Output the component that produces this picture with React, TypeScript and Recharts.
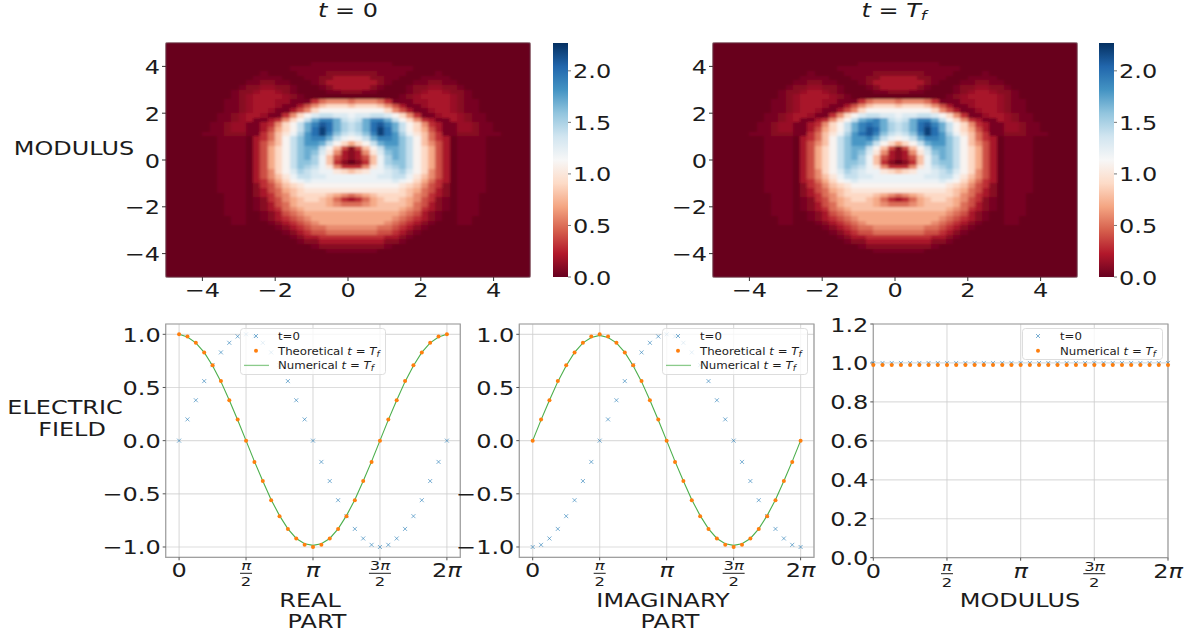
import {
  Bar,
  BarChart,
  CartesianGrid,
  ComposedChart,
  Legend,
  Line,
  ReferenceArea,
  Scatter,
  ScatterChart,
  XAxis,
  YAxis,
} from 'recharts';

// one char per cell, value * 10 in base 36 (a = 1.0 ... m = 2.2), x = 0.05, y = 0.15, top row first
const modulusStart: string[] = [
  '0000000000000000000000000 0 000000000000000000000000',
  '0000000000000000000000000 0 000000000000000000000000',
  '0000000000000000000000000 0 000000000000000000000000',
  '0000000000000000000000000 0 000000000000000000000000',
  '00000000000000000000xxxxx x xxxxx0000000000000000000',
  '00000000000000000xxxxxxxx x xxxxxxxx0000000000000000',
  '0000000000000x0000xxxx111 1 111xxxx0000x000000000000',
  '000000000000xxxx000xx1122 2 2211xx000xxxx00000000000',
  '00000000000xx11xx000x1222 2 2221x000xx11xx0000000000',
  '0000000000x11yy11x000x122 2 221x000x11yy11x000000000',
  '000000000x11y22y1x0000xx1 1 1xx0000x1y22y11x00000000',
  '000000000x1y2222y1x000000 0 000000x1y2222y1x00000000',
  '00000000xx1y222yyxxx35666 5 66653xxxyy222y1xx0000000',
  '00000000xx1y222yxx2468999 8 9998642xxy222y1xx0000000',
  '00000000xx1y22yxx2469bbbb b bbbb9642xxy22y1xx0000000',
  '0000000xx1y22yxx369bdeedd c ddeedb963xxy22y1xx000000',
  '0000000xx1y2xx2369behjjhe d ehjjheb9632xx2y1xx000000',
  '000000xx1yyxx2369behjlkhf e fhkljheb9632xxyy1xx00000',
  '000000xx1yyxx2479behkmkhf e fhkmkheb9742xxyy1xx00000',
  '00000xxx111xx358acfikmjge d egjmkifca853xx111xxx0000',
  '0000000xxxx 02358begijjhec b cehjjigeb85320 xxxx000000',
  '0000000xxxx 02468begiiheb9 7 9behiigeb86420 xxxx000000',
  '0000000xxxx 02479beghheb84 1 48behhgeb97420 xxxx000000',
  '0000000xxxx 02479beghgda62 1 26adghgeb97420 xxxx000000',
  '0000000xxxx 02479beghfc842 1 248cfhgeb97420 xxxx000000',
  '0000000xxxx 02479beggfc831 0 138cfggeb97420 xxxx000000',
  '0000000xxxx 02479begfeca63 3 36acefgeb97420 xxxx000000',
  '0000000xxxx 02469bdfedcca9 8 9accdefdb96420 xxxx000000',
  '0000000xxxx 02468aceeddccc c cccddeeca86420 xxxx000000',
  '0000000xxxx 023579bcdccccc c cccccdcb975320 xxxx000000',
  '0000000xxxx 0134689abbbbbb b bbbbbba9864310 xxxx000000',
  '0000000xxxx 01245789aaaaaa a aaaaaa98754210 xxxx000000',
  '00000000xxx 01235689999876 5 67899998653210 xxx0000000',
  '00000000xxx 0x134678998753 2 357899876431x0 xxx0000000',
  '00000000xxx 0x124578888765 5 567888875421x0 xxx0000000',
  '00000000xxx 0x123567888888 8 888888765321x0 xxx0000000',
  '00000000xxx 00x12456777777 7 77777765421x00 xxx0000000',
  '000000000xx 00x12345677777 7 77777654321x00 xx00000000',
  '000000000xx 000x1234567777 7 7777654321x000 xx00000000',
  '00000000000 0000x123455666 6 666554321x0000 0000000000',
  '00000000000 00000x12344555 5 55544321x00000 0000000000',
  '00000000000 000000x1223333 3 3333221x000000 0000000000',
  '00000000000 0000000x112222 2 222211x0000000 0000000000',
  '00000000000 000000000x1111 1 1111x000000000 0000000000',
  '00000000000 00000000000xxx x xxx00000000000 0000000000',
  '0000000000000000000000000 0 000000000000000000000000',
  '0000000000000000000000000 0 000000000000000000000000',
  '0000000000000000000000000 0 000000000000000000000000',
  '0000000000000000000000000 0 000000000000000000000000',
  '0000000000000000000000000 0 000000000000000000000000',
];

const modulusFinal: string[] = [
  '0000000000000000000000000 0 000000000000000000000000',
  '0000000000000000000000000 0 000000000000000000000000',
  '0000000000000000000000000 0 000000000000000000000000',
  '0000000000000000000000000 0 000000000000000000000000',
  '00000000000000000000xxxxx x xxxxx0000000000000000000',
  '00000000000000000xxxxxxxx x xxxxxxxx0000000000000000',
  '0000000000000x0000xxxx111 1 111xxxx0000x000000000000',
  '000000000000xxxx000xx1122 2 2211xx000xxxx00000000000',
  '00000000000xx11xx000x1222 2 2221x000xx11xx0000000000',
  '0000000000x11yy11x000x122 2 221x000x11yy11x000000000',
  '000000000x11y22y1x0000xx1 1 1xx0000x1y22y11x00000000',
  '000000000x1y2222y1x000000 0 000000x1y2222y1x00000000',
  '00000000xx1y222yyxxx35666 5 66653xxxyy222y1xx0000000',
  '00000000xx1y222yxx2468999 8 9998642xxy222y1xx0000000',
  '00000000xx1y22yxx2469bbbb b bbbb9642xxy22y1xx0000000',
  '0000000xx1y22yxx369bdeedd c ddeedb963xxy22y1xx000000',
  '0000000xx1y2xx2369behijhe d ehjjheb9632xx2y1xx000000',
  '000000xx1yyxx2369behjkjhf e fhkljheb9632xxyy1xx00000',
  '000000xx1yyxx2479behjlkhf e fhkmkheb9742xxyy1xx00000',
  '00000xxx111xx358acfikljge d egjmkifca853xx111xxx0000',
  '0000000xxxx 02358begiijhec b cehjjigeb85320 xxxx000000',
  '0000000xxxx 02468begiiheb9 7 9behiigeb86420 xxxx000000',
  '0000000xxxx 02479beghheb84 1 48behhgeb97420 xxxx000000',
  '0000000xxxx 02479beghgda62 1 26adghgeb97420 xxxx000000',
  '0000000xxxx 02479beghfc842 1 248cfhgeb97420 xxxx000000',
  '0000000xxxx 02479beggfc831 0 138cfggeb97420 xxxx000000',
  '0000000xxxx 02479begfeca63 3 36acefgeb97420 xxxx000000',
  '0000000xxxx 02469bdfedcca9 8 9accdefdb96420 xxxx000000',
  '0000000xxxx 02468aceeddccc c cccddeeca86420 xxxx000000',
  '0000000xxxx 023579bcdccccc c cccccdcb975320 xxxx000000',
  '0000000xxxx 0134689abbbbbb b bbbbbba9864310 xxxx000000',
  '0000000xxxx 01245789aaaaaa a aaaaaa98754210 xxxx000000',
  '00000000xxx 01235689999876 5 67899998653210 xxx0000000',
  '00000000xxx 0x134678998753 2 357899876431x0 xxx0000000',
  '00000000xxx 0x124578888765 5 567888875421x0 xxx0000000',
  '00000000xxx 0x123567888888 8 888888765321x0 xxx0000000',
  '00000000xxx 00x12456777777 7 77777765421x00 xxx0000000',
  '000000000xx 00x12345677777 7 77777654321x00 xx00000000',
  '000000000xx 000x1234567777 7 7777654321x000 xx00000000',
  '00000000000 0000x123455666 6 666554321x0000 0000000000',
  '00000000000 00000x12344555 5 55544321x00000 0000000000',
  '00000000000 000000x1223333 3 3333221x000000 0000000000',
  '00000000000 0000000x112222 2 222211x0000000 0000000000',
  '00000000000 000000000x1111 1 1111x000000000 0000000000',
  '00000000000 00000000000xxx x xxx00000000000 0000000000',
  '0000000000000000000000000 0 000000000000000000000000',
  '0000000000000000000000000 0 000000000000000000000000',
  '0000000000000000000000000 0 000000000000000000000000',
  '0000000000000000000000000 0 000000000000000000000000',
  '0000000000000000000000000 0 000000000000000000000000',
];

const colorbarStops = ['#67001f', '#b2182b', '#d6604d', '#f4a582', '#fddbc7', '#f7f7f7', '#d1e5f0', '#92c5de', '#4393c3', '#2166ac', '#053061'];
const heatTicks = [-4, -2, 0, 2, 4];
const colorbarTicks = [0, 0.5, 1, 1.5, 2];
const modulusMax = 2.27;

const gridIndex = [0, 1, 2, 3, 4, 5, 6, 7, 8, 9, 10, 11, 12, 13, 14, 15, 16, 17, 18, 19, 20, 21, 22, 23, 24, 25, 26, 27, 28, 29, 30, 31, 32];
const realStart = [0, 0.2, 0.38, 0.56, 0.71, 0.83, 0.92, 0.98, 1, 0.98, 0.92, 0.83, 0.71, 0.56, 0.38, 0.2, 0, -0.2, -0.38, -0.56, -0.71, -0.83, -0.92, -0.98, -1, -0.98, -0.92, -0.83, -0.71, -0.56, -0.38, -0.2, 0];
const realTheory = [1, 0.98, 0.92, 0.83, 0.71, 0.56, 0.38, 0.2, 0, -0.2, -0.38, -0.56, -0.71, -0.83, -0.92, -0.98, -1, -0.98, -0.92, -0.83, -0.71, -0.56, -0.38, -0.2, 0, 0.2, 0.38, 0.56, 0.71, 0.83, 0.92, 0.98, 1];
const realNumeric = [1, 0.975, 0.92, 0.83, 0.705, 0.555, 0.38, 0.195, 0, -0.195, -0.38, -0.555, -0.705, -0.83, -0.92, -0.97, -0.985, -0.97, -0.92, -0.83, -0.705, -0.555, -0.38, -0.195, 0, 0.195, 0.38, 0.555, 0.705, 0.83, 0.92, 0.975, 1];
const imagStart = [-1, -0.98, -0.92, -0.83, -0.71, -0.56, -0.38, -0.2, 0, 0.2, 0.38, 0.56, 0.71, 0.83, 0.92, 0.98, 1, 0.98, 0.92, 0.83, 0.71, 0.56, 0.38, 0.2, 0, -0.2, -0.38, -0.56, -0.71, -0.83, -0.92, -0.98, -1];
const imagTheory = [0, 0.2, 0.38, 0.56, 0.71, 0.83, 0.92, 0.98, 1, 0.98, 0.92, 0.83, 0.71, 0.56, 0.38, 0.2, 0, -0.2, -0.38, -0.56, -0.71, -0.83, -0.92, -0.98, -1, -0.98, -0.92, -0.83, -0.71, -0.56, -0.38, -0.2, 0];
const imagNumeric = [0, 0.195, 0.38, 0.555, 0.705, 0.83, 0.92, 0.97, 0.99, 0.97, 0.92, 0.83, 0.705, 0.555, 0.38, 0.195, 0, -0.195, -0.38, -0.555, -0.705, -0.83, -0.92, -0.97, -0.985, -0.97, -0.92, -0.83, -0.705, -0.555, -0.38, -0.195, 0];
const modStart = [1, 1, 1, 1, 1, 1, 1, 1, 1, 1, 1, 1, 1, 1, 1, 1, 1, 1, 1, 1, 1, 1, 1, 1, 1, 1, 1, 1, 1, 1, 1, 1, 1];
const modNumeric = [0.99, 0.99, 0.99, 0.99, 0.99, 0.99, 0.99, 0.99, 0.99, 0.99, 0.99, 0.99, 0.99, 0.99, 0.99, 0.99, 0.99, 0.99, 0.99, 0.99, 0.99, 0.99, 0.99, 0.99, 0.99, 0.99, 0.99, 0.99, 0.99, 0.99, 0.99, 0.99, 0.99];

const phaseTicks = [0, 8, 16, 24, 32];
const fieldTicks = [-1, -0.5, 0, 0.5, 1];
const modTicks = [0, 0.2, 0.4, 0.6, 0.8, 1, 1.2];

const FONT = "'DejaVu Sans', sans-serif";
const STRETCH = 1.26;
const INK = '#1c1c1c';
const BLUE = '#1f77b4';
const ORANGE = '#ff7f0e';
const GREEN = '#2ca02c';

function cellColor(v: number) {
  const t = Math.min(v / modulusMax, 1) * 10;
  const i = Math.min(Math.floor(t), 9);
  const hex = (s: string, k: number) => parseInt(s.slice(k, k + 2), 16);
  const mix = (k: number) => Math.round(hex(colorbarStops[i], k) + (hex(colorbarStops[i + 1], k) - hex(colorbarStops[i], k)) * (t - i));
  return `rgb(${mix(1)},${mix(3)},${mix(5)})`;
}

const decode = (ch: string) => (ch === 'x' ? 0.05 : ch === 'y' ? 0.15 : parseInt(ch, 36) / 10);

function toCells(rows: string[]) {
  return rows.flatMap((row, r) =>
    [...row.replace(/ /g, '')].map((ch, c) => ({ x: -4.9 + c * 0.2, y: 4.9 - r * 0.2, v: decode(ch) })),
  );
}

function Wide({ x, y, size = 19, anchor = 'middle', children, sx = STRETCH }: any) {
  return (
    <text
      transform={`translate(${x} ${y}) scale(${sx} 1)`}
      textAnchor={anchor}
      fontFamily={FONT}
      fontSize={size}
      fill={INK}
    >
      {children}
    </text>
  );
}

const minus = (v: number, digits: number) => v.toFixed(digits).replace('-', '\u2212');
const piGlyph = <tspan fontStyle="italic">{'\u03c0'}</tspan>;

function NumTick({ x, y, payload, digits = 1 }: any) {
  return (
    <Wide x={x} y={y + 7.5} size={20} sx={1.2} anchor="end">
      {minus(payload.value, digits)}
    </Wide>
  );
}

function HeatXTick({ x, y, payload }: any) {
  return (
    <Wide x={x} y={y + 14} size={20} sx={1.2}>
      {minus(payload.value, 0)}
    </Wide>
  );
}

function PiTick({ x, y, payload }: any) {
  const v = payload.value;
  if (v === 0) return <Wide x={x} y={y + 15} size={20} sx={1.2}>0</Wide>;
  if (v === 16) return <Wide x={x} y={y + 15} size={20} sx={1.2}>{piGlyph}</Wide>;
  if (v === 32) return <Wide x={x} y={y + 15} size={20} sx={1.2}>2{piGlyph}</Wide>;
  return (
    <g>
      <Wide x={x} y={y + 8} size={13}>{v === 24 ? '3' : ''}{piGlyph}</Wide>
      <line x1={x - (v === 24 ? 11 : 6)} x2={x + (v === 24 ? 11 : 6)} y1={y + 11} y2={y + 11} stroke={INK} strokeWidth={1} />
      <Wide x={x} y={y + 24} size={13}>2</Wide>
    </g>
  );
}

function HeatCell({ cx, cy, payload }: any) {
  return <rect x={cx - 3.8} y={cy - 2.5} width={7.6} height={5} fill={cellColor(payload.v)} shapeRendering="crispEdges" />;
}

function HeatPanel({ left, rows }: { left: number; rows: string[] }) {
  return (
    <div className="heat" style={{ position: 'absolute', left, top: 30 }}>
      <div style={{ position: 'absolute', left: 106, top: 13, width: 364, height: 234, background: '#67001f' }} />
      <ScatterChart width={480} height={285} margin={{ top: 13, right: 10, bottom: 0, left: 0 }}>
        <XAxis type="number" dataKey="x" domain={[-5, 5]} ticks={heatTicks} tick={<HeatXTick />} tickSize={4} tickLine={{ stroke: '#333' }} axisLine={false} height={38} />
        <YAxis type="number" dataKey="y" domain={[-5, 5]} ticks={heatTicks} tick={<NumTick digits={0} />} tickSize={4} tickLine={{ stroke: '#333' }} axisLine={false} width={106} />
        <Scatter data={toCells(rows)} shape={<HeatCell />} isAnimationActive={false} />
        <ReferenceArea x1={-5} x2={5} y1={-5} y2={5} fill="none" stroke="#777" strokeWidth={1} />
      </ScatterChart>
    </div>
  );
}

function ColorTick({ x, y, payload }: any) {
  return (
    <Wide x={x} y={y + 7.5} size={20} sx={1.2} anchor="start">
      {payload.value.toFixed(1)}
    </Wide>
  );
}

function ColorBar({ left, id }: { left: number; id: string }) {
  return (
    <div style={{ position: 'absolute', left, top: 30 }}>
      <BarChart width={100} height={260} data={[{ name: 'modulus', top: modulusMax }]} barCategoryGap={0} margin={{ top: 13, right: 0, bottom: 13, left: 0 }}>
        <defs>
          <linearGradient id={id} x1="0" y1="1" x2="0" y2="0">
            {colorbarStops.map((c, i) => (
              <stop key={c} offset={`${i * 10}%`} stopColor={c} />
            ))}
          </linearGradient>
        </defs>
        <XAxis dataKey="name" hide />
        <YAxis orientation="right" type="number" domain={[0, modulusMax]} ticks={colorbarTicks} width={85} tickSize={3} tickLine={{ stroke: '#777' }} axisLine={false} tick={<ColorTick />} />
        <Bar dataKey="top" fill={`url(#${id})`} isAnimationActive={false} />
      </BarChart>
    </div>
  );
}

function CrossDot({ cx, cy }: any) {
  return <path d={`M${cx - 2} ${cy - 2}L${cx + 2} ${cy + 2}M${cx - 2} ${cy + 2}L${cx + 2} ${cy - 2}`} stroke={BLUE} strokeOpacity={0.65} strokeWidth={0.9} fill="none" />;
}

function OrangeDot({ cx, cy }: any) {
  return <circle cx={cx} cy={cy} r={2} fill={ORANGE} />;
}

function MathLabel() {
  return (
    <>
      <tspan fontStyle="italic">t</tspan>
      <tspan> = </tspan>
      <tspan fontStyle="italic">T</tspan>
      <tspan fontStyle="italic" fontSize={8} dy={2}>f</tspan>
    </>
  );
}

function LegendBox({ width, height, entries, textLeft = 38 }: any) {
  return (
    <svg width={width} height={height} style={{ display: 'block' }}>
      <rect x={0.5} y={0.5} width={width - 1} height={height - 1} rx={3} fill="#fff" fillOpacity={0.8} stroke="#ddd" />
      {entries.map((e: any, i: number) => {
        const y = 8 + i * 14.7;
        return (
          <g key={e.label}>
            {e.kind === 'cross' && <CrossDot cx={16} cy={y} />}
            {e.kind === 'dot' && <OrangeDot cx={16} cy={y} />}
            {e.kind === 'line' && <line x1={4} x2={29} y1={y} y2={y} stroke={GREEN} strokeOpacity={0.55} strokeWidth={1.3} />}
            <Wide x={textLeft} y={y + 4} size={10.5} anchor="start" sx={1.12}>
              {e.label}
              {e.math && <MathLabel />}
            </Wide>
          </g>
        );
      })}
    </svg>
  );
}

const threeEntries = [
  { kind: 'cross', label: 't=0' },
  { kind: 'dot', label: 'Theoretical ', math: true },
  { kind: 'line', label: 'Numerical ', math: true },
];
const twoEntries = [
  { kind: 'cross', label: 't=0' },
  { kind: 'dot', label: 'Numerical ', math: true },
];

const makeRows = (a: number[], b: number[], c: number[]) => gridIndex.map((i, k) => ({ i, start: a[k], theory: b[k], numeric: c[k] }));

function FieldPanel({ left, plotLeft, plotRight, a, b, c, legendLeft }: any) {
  return (
    <div style={{ position: 'absolute', left, top: 310 }}>
      <ComposedChart width={plotRight + 10} height={300} data={makeRows(a, b, c)} margin={{ top: 14, right: 10, bottom: 0, left: 0 }}>
        <CartesianGrid stroke="#cfcfcf" strokeOpacity={0.7} strokeWidth={1.2} />
        <XAxis type="number" dataKey="i" domain={[-1.6, 33.6]} ticks={phaseTicks} tick={<PiTick />} tickSize={3} tickLine={{ stroke: '#555' }} axisLine={false} height={52.7} />
        <YAxis type="number" domain={[-1.097, 1.097]} ticks={fieldTicks} tick={<NumTick />} tickSize={3} tickLine={{ stroke: '#555' }} axisLine={false} width={plotLeft} />
        <ReferenceArea x1={-1.6} x2={33.6} y1={-1.097} y2={1.097} fill="none" stroke="#a0a0a0" strokeWidth={1.2} />
        <Line dataKey="start" stroke="none" dot={<CrossDot />} isAnimationActive={false} />
        <Line dataKey="numeric" stroke={GREEN} strokeOpacity={0.85} strokeWidth={1.1} dot={false} isAnimationActive={false} />
        <Line dataKey="theory" stroke="none" dot={<OrangeDot />} isAnimationActive={false} />
        <Legend layout="vertical" align="center" verticalAlign="middle" wrapperStyle={{ left: legendLeft, top: 18, width: 146, height: 47 }} content={<LegendBox width={146} height={47} entries={threeEntries} />} />
      </ComposedChart>
    </div>
  );
}

function ModulusPanel() {
  return (
    <div style={{ position: 'absolute', left: 800, top: 310 }}>
      <ComposedChart width={386} height={300} data={makeRows(modStart, modNumeric, modNumeric)} margin={{ top: 14, right: 18, bottom: 0, left: 0 }}>
        <CartesianGrid stroke="#cfcfcf" strokeOpacity={0.7} strokeWidth={1.2} />
        <XAxis type="number" dataKey="i" domain={[0, 32]} ticks={phaseTicks} tick={<PiTick />} tickSize={3} tickLine={{ stroke: '#555' }} axisLine={false} height={52.3} />
        <YAxis type="number" domain={[0, 1.2]} ticks={modTicks} tick={<NumTick />} tickSize={3} tickLine={{ stroke: '#555' }} axisLine={false} width={73.3} />
        <ReferenceArea x1={0} x2={32} y1={0} y2={1.2} fill="none" stroke="#a0a0a0" strokeWidth={1.2} />
        <Line dataKey="start" stroke="none" dot={<CrossDot />} isAnimationActive={false} />
        <Line dataKey="numeric" stroke="none" dot={<OrangeDot />} isAnimationActive={false} />
        <Legend layout="vertical" align="center" verticalAlign="middle" wrapperStyle={{ left: 221.7, top: 18, width: 141, height: 32 }} content={<LegendBox width={141} height={32} entries={twoEntries} />} />
      </ComposedChart>
    </div>
  );
}

export default function App() {
  return (
    <div style={{ position: 'absolute', left: 0, top: 0, width: 1186, height: 636, background: '#fff', overflow: 'hidden' }}>
      <style>{'.heat .recharts-scatter { filter: url(#heatSoft); }'}</style>
      <svg width={0} height={0} style={{ position: 'absolute' }}>
        <filter id="heatSoft" x="0" y="0" width="1" height="1">
          <feGaussianBlur stdDeviation="1.5 0.9" />
        </filter>
      </svg>
      <HeatPanel left={60} rows={modulusStart} />
      <ColorBar left={553} id="rdbuA" />
      <HeatPanel left={607} rows={modulusFinal} />
      <ColorBar left={1099} id="rdbuB" />
      <FieldPanel left={0} plotLeft={165.7} plotRight={460.3} a={realStart} b={realTheory} c={realNumeric} legendLeft={240.3} />
      <FieldPanel left={450} plotLeft={69.3} plotRight={364} a={imagStart} b={imagTheory} c={imagNumeric} legendLeft={212.3} />
      <ModulusPanel />
      <svg width={1186} height={636} style={{ position: 'absolute', left: 0, top: 0, pointerEvents: 'none' }}>
        <Wide x={348} y={17}><tspan fontStyle="italic">t</tspan> = 0</Wide>
        <Wide x={894} y={17}><tspan fontStyle="italic">t</tspan> = <tspan fontStyle="italic">T</tspan><tspan fontStyle="italic" fontSize={13} dy={3}>f</tspan></Wide>
        <Wide x={74} y={155}>MODULUS</Wide>
        <Wide x={65} y={414}>ELECTRIC</Wide>
        <Wide x={72} y={436}>FIELD</Wide>
        <Wide x={310} y={607}>REAL</Wide>
        <Wide x={317} y={628}>PART</Wide>
        <Wide x={663} y={607}>IMAGINARY</Wide>
        <Wide x={670} y={628}>PART</Wide>
        <Wide x={1020} y={607}>MODULUS</Wide>
      </svg>
    </div>
  );
}
